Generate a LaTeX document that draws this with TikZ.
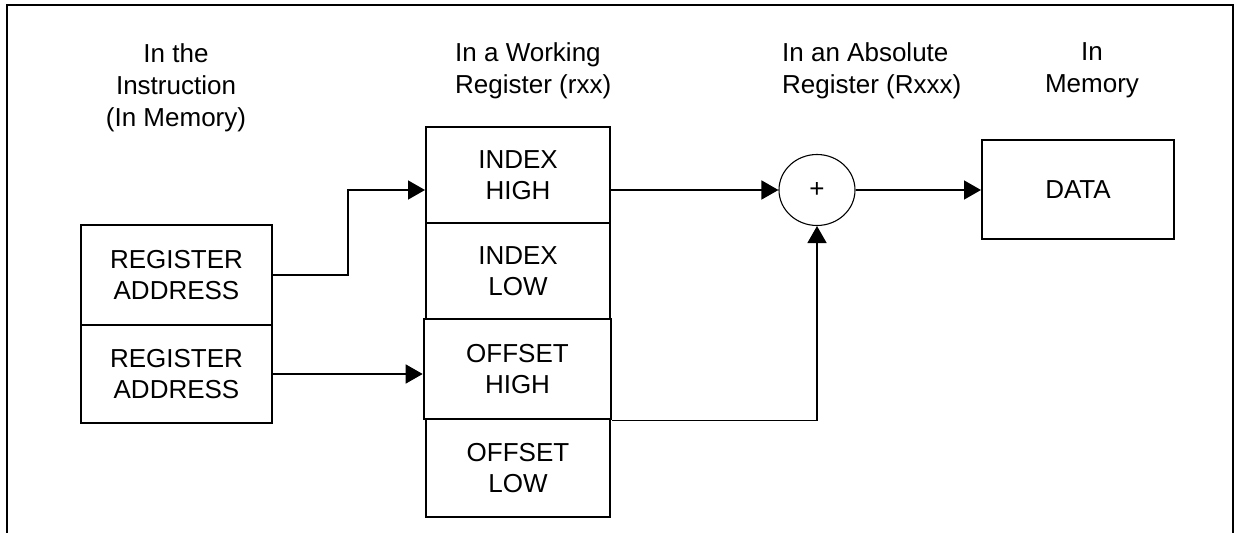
\documentclass[tikz,border=0pt]{standalone}
\usepackage{fontspec}
\setmainfont{Liberation Sans}
\usetikzlibrary{arrows.meta}
\usetikzlibrary{shapes.geometric}
\usetikzlibrary{calc}

\begin{document}
\begin{tikzpicture}[x=1bp, y=-1bp, >={Triangle[length=17bp,width=19bp]},
    every node/.style={font=\fontsize{26bp}{31bp}\selectfont, align=center, inner sep=0pt},
    regbox/.style={draw, line width=2bp, minimum width=191bp},
    cellbox/.style={draw, line width=2bp, minimum width=184bp},
    colhead/.style={font=\fontsize{26bp}{32bp}\selectfont},
    link/.style={->, line width=1.6bp}]
  \useasboundingbox (0,0) rectangle (1237,533);

  % frame, open at the bottom
  \draw[line width=2.5bp] (7,533) -- (7,5) -- (1233,5) -- (1233,533);

  % column heads
  \node[colhead, anchor=north] (hinstr) at (176,43) {In the\\Instruction\\(In Memory)};
  \node[colhead, anchor=north west, align=left] (hwork) at (455,42) {In a Working\\Register (rxx)};
  \node[colhead, anchor=north west, align=left] (habs) at (782,42) {In an Absolute\\Register (Rxxx)};
  \node[colhead, anchor=north] (hmem) at (1092,42) {In\\Memory};

  % instruction
  \node[regbox, minimum height=100bp] (regA) at (176.5,275) {REGISTER\\ADDRESS};
  \node[regbox, minimum height=98bp]  (regB) at (176.5,374) {REGISTER\\ADDRESS};

  % working register
  \node[cellbox, minimum height=96bp]  (idxhi) at (518,175) {INDEX\\HIGH};
  \node[cellbox, minimum height=96bp]  (idxlo) at (518,271) {INDEX\\LOW};
  \node[cellbox, minimum height=100bp, minimum width=187bp, line width=2.6bp] (offhi) at (517.5,369) {OFFSET\\HIGH};
  \node[cellbox, minimum height=98bp]  (offlo) at (518,468) {OFFSET\\LOW};

  % adder and memory
  \node[draw, ellipse, line width=1.1bp, minimum width=76bp, minimum height=71bp] (sum) at (817,190) {+};
  \node[draw, line width=2bp, minimum width=192bp, minimum height=99bp] (data) at (1078,189.5) {DATA};

  \draw[link] (regA.east) -- ++(75,0) |- (idxhi.west |- sum.center);
  \draw[link] (regB.east) -- (offhi.west |- regB.east);
  \draw[link] (idxhi.east |- sum.center) -- (sum.west);
  \draw[link] (offhi.south east) -| (sum.south);
  \draw[link] (sum.east) -- (data.west |- sum.east);
\end{tikzpicture}
\end{document}
